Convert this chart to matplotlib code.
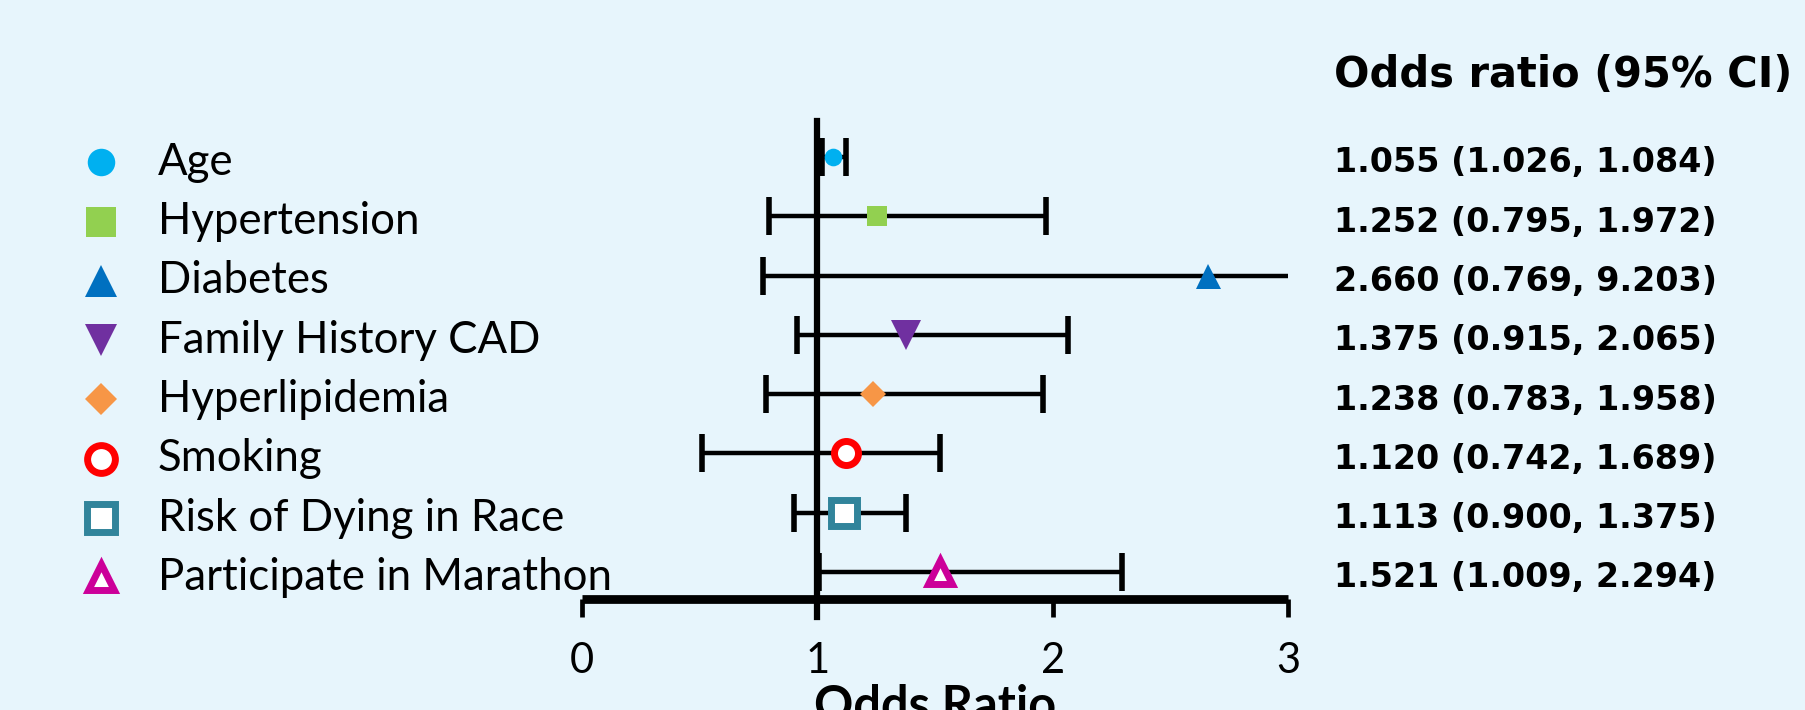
import matplotlib
matplotlib.use("Agg")
import matplotlib.pyplot as plt
import matplotlib.transforms as mtransforms

# data, top row first
factors = ["Age", "Hypertension", "Diabetes", "Family History CAD", "Hyperlipidemia",
           "Smoking", "Risk of Dying in Race", "Participate in Marathon"]
# odds ratios and CI as drawn in the plot
odds = [1.066, 1.252, 2.660, 1.375, 1.238, 1.120, 1.113, 1.521]
ci_low = [1.02, 0.795, 0.769, 0.915, 0.783, 0.51, 0.900, 1.009]
ci_high = [1.12, 1.972, 9.203, 2.065, 1.958, 1.52, 1.375, 2.294]
# printed column on the right
or_text = ["1.055 (1.026, 1.084)", "1.252 (0.795, 1.972)", "2.660 (0.769, 9.203)",
           "1.375 (0.915, 2.065)", "1.238 (0.783, 1.958)", "1.120 (0.742, 1.689)",
           "1.113 (0.900, 1.375)", "1.521 (1.009, 2.294)"]
x_ticks = [0, 1, 2, 3]

# marker styles per factor: (marker, plot size, legend size, face, edge, edge width)
styles = [
    ("o", 12.7, 19.8, "#00b0f0", "#00b0f0", 0),
    ("s", 14.5, 20.9, "#92d050", "#92d050", 0),
    ("^", 18, 22.7, "#0070c0", "#0070c0", 0),
    ("v", 21.6, 22.7, "#7030a0", "#7030a0", 0),
    ("D", 13.7, 16.3, "#f79646", "#f79646", 0),
    ("o", 17.3, 20, "white", "#ff0000", 5),
    ("s", 18.5, 20.6, "white", "#31849b", 5),
    ("^", 17, 18.5, "white", "#cc0099", 5),
]

plt.rcParams["font.family"] = ["Lato", "DejaVu Sans"]

W, H = 1806, 710
fig = plt.figure(figsize=(W / 100, H / 100), dpi=100)
fig.patch.set_facecolor("#e7f5fc")

ax = fig.add_axes([582 / W, 1 - 599 / H, 706 / W, 478 / H])
ax.set_facecolor("none")
rows = list(range(len(factors)))
ax.set_xlim(0, 3)
ax.set_ylim(7.455, -0.607)

for s in ["left", "top", "right"]:
    ax.spines[s].set_visible(False)
ax.spines["bottom"].set_linewidth(6.3)
ax.spines["bottom"].set_capstyle("butt")
ax.set_yticks([])
ax.set_xticks(x_ticks)
ax.set_xticklabels([str(t) for t in x_ticks])
ax.set_xticks([0, 3], minor=True)
ax.tick_params(axis="x", which="major", length=13, width=3.4, pad=18, labelsize=30)
ax.tick_params(axis="x", which="minor", length=17, width=6.2)

ax.axvline(1, ymin=-0.038, ymax=1, color="black", lw=4.5, clip_on=False, zorder=2)

xerr = [[o - l for o, l in zip(odds, ci_low)], [h - o for o, h in zip(odds, ci_high)]]
ax.errorbar(odds, rows, xerr=xerr, fmt="none", ecolor="black", elinewidth=3.2,
            capsize=14, capthick=4, zorder=3)

for r, o, (m, ms, _, fc, ec, mew) in zip(rows, odds, styles):
    ax.plot(o, r, marker=m, markersize=ms, markerfacecolor=fc, markeredgecolor=ec,
            markeredgewidth=mew, linestyle="none", zorder=4)

# legend column on the left, aligned with the rows
blend = mtransforms.blended_transform_factory(fig.transFigure, ax.transData)
for r, name, (m, _, ls, fc, ec, mew) in zip(rows, factors, styles):
    ax.plot(101 / W, r + 0.09, marker=m, markersize=ls, markerfacecolor=fc,
            markeredgecolor=ec, markeredgewidth=mew, transform=blend, clip_on=False,
            linestyle="none")
    ax.text(158 / W, r + 0.09, name, transform=blend, fontsize=31.5, va="center", ha="left")

# odds ratio text column
fig.text(1334 / W, 1 - 75 / H, "Odds ratio (95% CI)", fontsize=30, fontweight="bold",
         family="DejaVu Sans", va="center", ha="left")
for r, t in zip(rows, or_text):
    ax.text(1334 / W, r + 0.1, t, transform=blend, fontsize=24, fontweight="bold",
            family="DejaVu Sans", va="center", ha="left")

fig.text(935 / W, 1 - 684 / H, "Odds Ratio", fontsize=35, fontweight="bold",
         va="top", ha="center")

fig.savefig("out.png", dpi=100, facecolor=fig.get_facecolor())
